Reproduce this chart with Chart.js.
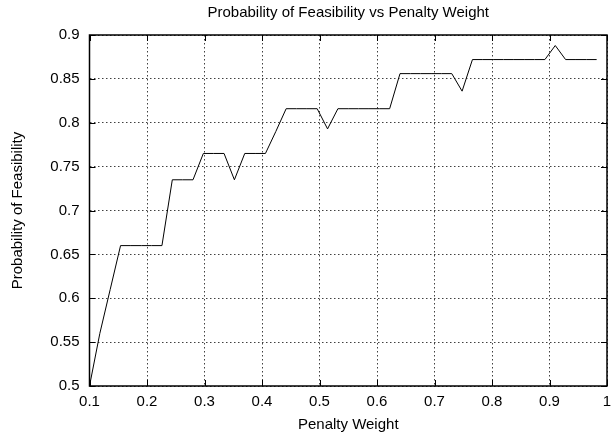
<!DOCTYPE html>
<html>
<head>
<meta charset="utf-8">
<title>Probability of Feasibility vs Penalty Weight</title>
<script src="https://cdn.jsdelivr.net/npm/chart.js@4.4.1/dist/chart.umd.min.js"></script>
<style>
  html, body { margin: 0; padding: 0; background: #ffffff; }
  #wrap { width: 611px; height: 441px; }
  canvas { display: block; }
</style>
</head>
<body>
<div id="wrap"><canvas id="chart" width="611" height="441"></canvas></div>
<script>
// Penalty weights sampled every 0.018 from 0.1
const penaltyWeights = [
  0.100, 0.118, 0.136, 0.154, 0.172, 0.190, 0.208, 0.226, 0.244, 0.262,
  0.280, 0.298, 0.316, 0.334, 0.352, 0.370, 0.388, 0.406, 0.424, 0.442,
  0.460, 0.478, 0.496, 0.514, 0.532, 0.550, 0.568, 0.586, 0.604, 0.622,
  0.640, 0.658, 0.676, 0.694, 0.712, 0.730, 0.748, 0.766, 0.784, 0.802,
  0.820, 0.838, 0.856, 0.874, 0.892, 0.910, 0.928, 0.946, 0.964, 0.982
];

// Estimated probability that the solution is feasible at each weight
const feasibility = [
  0.500, 0.560, 0.610, 0.660, 0.660, 0.660, 0.660, 0.660, 0.735, 0.735,
  0.735, 0.765, 0.765, 0.765, 0.735, 0.765, 0.765, 0.765, 0.790, 0.816,
  0.816, 0.816, 0.816, 0.793, 0.816, 0.816, 0.816, 0.816, 0.816, 0.816,
  0.856, 0.856, 0.856, 0.856, 0.856, 0.856, 0.836, 0.872, 0.872, 0.872,
  0.872, 0.872, 0.872, 0.872, 0.872, 0.888, 0.872, 0.872, 0.872, 0.872
];

const xTicks = [0.1, 0.2, 0.3, 0.4, 0.5, 0.6, 0.7, 0.8, 0.9, 1];
const yTicks = [0.5, 0.55, 0.6, 0.65, 0.7, 0.75, 0.8, 0.85, 0.9];

const chartTitle = 'Probability of Feasibility vs Penalty Weight';
const xTitle = 'Penalty Weight';
const yTitle = 'Probability of Feasibility';

const FONT = "'Liberation Sans', Arial, Helvetica, sans-serif";
const FONT_SIZE = 15;

const points = penaltyWeights.map((w, i) => ({ x: w, y: feasibility[i] }));

// Frame around the plot area plus short inward tick marks on all four sides
const framePlugin = {
  id: 'frame',
  afterDraw(chart) {
    const { ctx, chartArea: a, scales } = chart;
    const tickLen = 6;
    ctx.save();
    ctx.strokeStyle = '#000';
    ctx.lineWidth = 1;
    ctx.beginPath();
    xTicks.forEach(v => {
      const px = Math.round(scales.x.getPixelForValue(v)) + 0.5;
      ctx.moveTo(px, a.bottom); ctx.lineTo(px, a.bottom - tickLen);
      ctx.moveTo(px, a.top); ctx.lineTo(px, a.top + tickLen);
    });
    yTicks.forEach(v => {
      const py = Math.round(scales.y.getPixelForValue(v)) + 0.5;
      ctx.moveTo(a.left, py); ctx.lineTo(a.left + tickLen, py);
      ctx.moveTo(a.right, py); ctx.lineTo(a.right - tickLen, py);
    });
    ctx.stroke();
    ctx.lineWidth = 1.5;
    ctx.strokeRect(a.left, a.top, a.right - a.left, a.bottom - a.top);
    ctx.restore();
  }
};

new Chart(document.getElementById('chart'), {
  type: 'line',
  data: {
    datasets: [{
      data: points,
      borderColor: '#000000',
      borderWidth: 1,
      pointRadius: 0,
      tension: 0,
      fill: false
    }]
  },
  options: {
    responsive: false,
    animation: false,
    devicePixelRatio: 1,
    layout: { padding: { left: 0, right: 4, top: 0, bottom: 0 } },
    plugins: {
      legend: { display: false },
      tooltip: { enabled: false },
      title: {
        display: true,
        fullSize: false,
        text: chartTitle,
        color: '#000',
        font: { family: FONT, size: FONT_SIZE, weight: 'normal', lineHeight: 1.2 },
        padding: { top: 3.5, bottom: 13.5 }
      }
    },
    scales: {
      x: {
        type: 'linear',
        min: 0.1,
        max: 1,
        afterBuildTicks(scale) { scale.ticks = xTicks.map(v => ({ value: v })); },
        afterFit(scale) { scale.height = 55; scale.paddingLeft = 0; scale.paddingRight = 0; },
        ticks: {
          color: '#000',
          padding: 7,
          maxRotation: 0,
          autoSkip: false,
          font: { family: FONT, size: FONT_SIZE },
          callback: v => String(+v.toFixed(2))
        },
        grid: { color: 'rgba(0,0,0,0.75)', lineWidth: 1, drawTicks: false },
        border: { display: false, dash: [1.5, 2.5] },
        title: {
          display: true,
          text: xTitle,
          color: '#000',
          font: { family: FONT, size: FONT_SIZE, lineHeight: 1.2 },
          padding: { top: 2, bottom: 7 }
        }
      },
      y: {
        type: 'linear',
        min: 0.5,
        max: 0.9,
        afterBuildTicks(scale) { scale.ticks = yTicks.map(v => ({ value: v })); },
        afterFit(scale) { scale.width = 89.5; scale.paddingTop = 0; scale.paddingBottom = 0; },
        ticks: {
          color: '#000',
          padding: 10,
          autoSkip: false,
          font: { family: FONT, size: FONT_SIZE },
          callback: v => String(+v.toFixed(2))
        },
        grid: { color: 'rgba(0,0,0,0.75)', lineWidth: 1, drawTicks: false },
        border: { display: false, dash: [1.5, 2.5] },
        title: {
          display: true,
          text: yTitle,
          color: '#000',
          font: { family: FONT, size: FONT_SIZE, lineHeight: 1.2 },
          padding: { top: 8.5, bottom: 0 }
        }
      }
    }
  },
  plugins: [framePlugin]
});
</script>
</body>
</html>
